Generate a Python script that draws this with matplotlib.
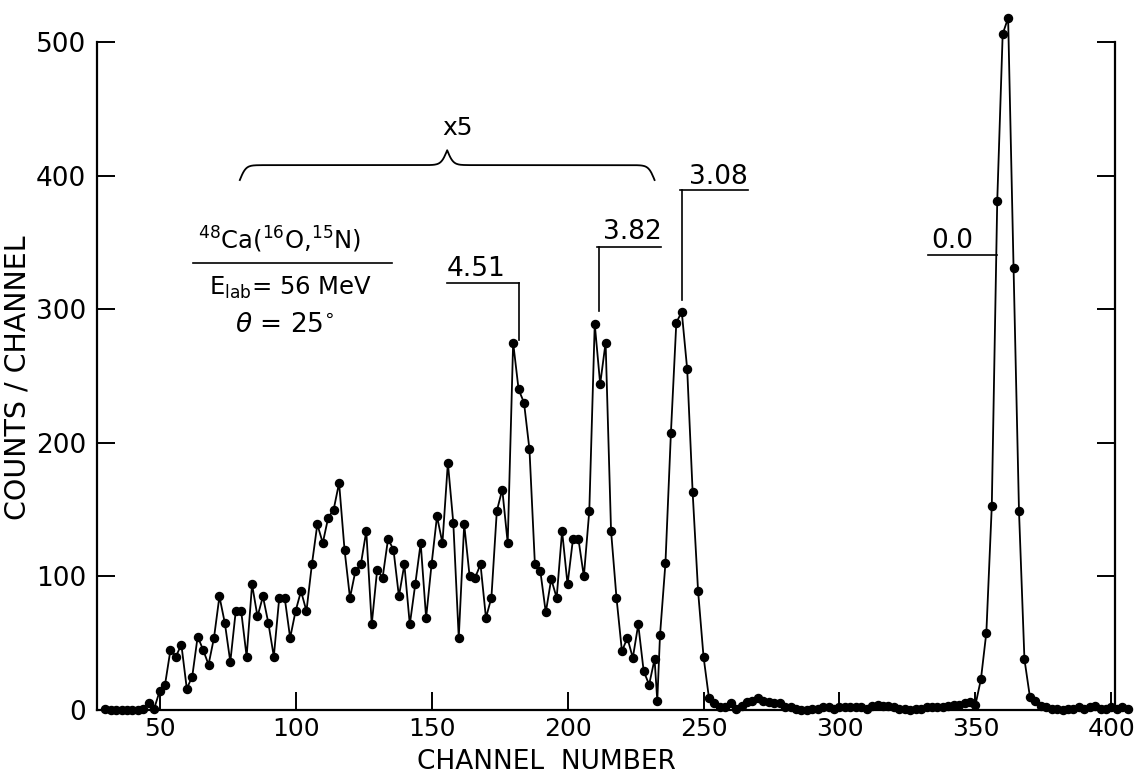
import numpy as np
import matplotlib.pyplot as plt

# channel numbers (points every ~2 channels) and counts as plotted (x5 below ch ~232)
ch = [30, 32, 34, 36, 38, 40, 42, 44, 46, 48,
      50, 52, 54, 56, 58, 60, 62, 64, 66, 68,
      70, 72, 74, 76, 78, 80, 82, 84, 86, 88,
      90, 92, 94, 96, 98, 100, 102, 104, 106, 108,
      110, 112, 114, 116, 118, 120, 122, 124, 126, 128,
      130, 132, 134, 136, 138, 140, 142, 144, 146, 148,
      150, 152, 154, 156, 158, 160, 162, 164, 166, 168,
      170, 172, 174, 176, 178, 180, 182, 184, 186, 188,
      190, 192, 194, 196, 198, 200, 202, 204, 206, 208,
      210, 212, 214, 216, 218, 220, 222, 224, 226, 228,
      230, 232, 233, 234, 236, 238, 240, 242, 244, 246,
      248, 250, 252, 254, 256, 258, 260, 262, 264, 266,
      268, 270, 272, 274, 276, 278, 280, 282, 284, 286,
      288, 290, 292, 294, 296, 298, 300, 302, 304, 306,
      308, 310, 312, 314, 316, 318, 320, 322, 324, 326,
      328, 330, 332, 334, 336, 338, 340, 342, 344, 346,
      348, 350, 352, 354, 356, 358, 360, 362, 364, 366,
      368, 370, 372, 374, 376, 378, 380, 382, 384, 386,
      388, 390, 392, 394, 396, 398, 400, 402, 404, 406]
counts = [1, 0, 0, 0, 0, 0, 0, 1, 5, 1,
          14, 19, 45, 40, 49, 16, 25, 55, 45, 34,
          54, 85, 65, 36, 74, 74, 40, 94, 70, 85,
          65, 40, 84, 84, 54, 74, 89, 74, 109, 139,
          125, 144, 150, 170, 120, 84, 104, 109, 134, 64,
          105, 99, 128, 120, 85, 109, 64, 94, 125, 69,
          109, 145, 125, 185, 140, 54, 139, 100, 99, 109,
          69, 84, 149, 165, 125, 275, 240, 230, 195, 109,
          104, 73, 98, 84, 134, 94, 128, 128, 100, 149,
          289, 244, 275, 134, 84, 44, 54, 39, 64, 29,
          19, 38, 7, 56, 110, 207, 290, 298, 255, 163,
          89, 40, 9, 5, 2, 2, 5, 1, 3, 6,
          7, 9, 7, 6, 5, 5, 2, 2, 1, 0,
          0, 1, 1, 2, 2, 1, 2, 2, 2, 2,
          2, 1, 3, 4, 3, 3, 2, 1, 1, 0,
          1, 1, 2, 2, 2, 2, 3, 4, 4, 5,
          6, 4, 23, 58, 153, 381, 506, 518, 331, 149,
          38, 10, 7, 3, 2, 1, 1, 0, 1, 1,
          2, 1, 2, 3, 1, 1, 2, 1, 2, 1]

x_ticks = [50, 100, 150, 200, 250, 300, 350, 400]
y_ticks = [0, 100, 200, 300, 400, 500]

plt.rcParams['font.family'] = 'DejaVu Sans'

fig = plt.figure(figsize=(11.43, 7.78), dpi=100)
ax = fig.add_axes([0.0849, 0.0874, 0.8906, 0.8586])

ax.plot(ch, counts, '-o', color='black', lw=1.3, ms=5.8, clip_on=False, zorder=5)

ax.set_xlim(27, 401.3)
ax.set_ylim(0, 500)
ax.set_xticks(x_ticks)
ax.set_yticks(y_ticks)
ax.tick_params(axis='both', direction='in', length=13, width=1.4)
ax.tick_params(axis='x', pad=5, labelsize=18)
ax.tick_params(axis='y', pad=8, labelsize=19, right=True)
ax.spines['top'].set_visible(False)
for s in ['left', 'right', 'bottom']:
    ax.spines[s].set_linewidth(1.6)

ax.text(0.441, -0.0778, 'CHANNEL  NUMBER', transform=ax.transAxes,
        ha='center', va='center', fontsize=19)
ax.text(-0.0786, 0.497, 'COUNTS / CHANNEL', transform=ax.transAxes,
        ha='center', va='center', rotation=90, fontsize=20.5)

# level labels with leader lines
def level(txt, tx, ty, x0, x1, yl, xv, yv):
    ax.text(tx, ty, txt, ha='center', va='center', fontsize=19)
    ax.plot([x0, x1], [yl, yl], color='black', lw=1.2)
    if xv is not None:
        ax.plot([xv, xv], [yl, yv], color='black', lw=1.2)

level('3.08', 255.3, 399, 241.3, 266.3, 389, 242, 307)
level('3.82', 223.7, 358, 210.7, 234.2, 346.6, 211.4, 299)
level('4.51', 166.4, 330, 155.6, 182.1, 319.6, 182.1, 277)
level('0.0', 341.3, 351, 332.5, 357.9, 340.6, None, None)

# x5 brace
xb = np.linspace(79.5, 232, 401)
half = xb[:201]
beta = 0.9
yh = 1 / (1 + np.exp(-beta * (half - half[0]))) + 1 / (1 + np.exp(-beta * (half - half[-1])))
yb = np.concatenate((yh, yh[-2::-1]))
ax.plot(xb, 396.7 + (yb - 0.5) * 22.3, color='black', lw=1.3)
ax.text(159.7, 436, 'x5', ha='center', va='center', fontsize=18)

# reaction label
ax.text(94, 352, r'$^{48}$Ca($^{16}$O,$^{15}$N)', ha='center', va='center', fontsize=17.5)
ax.plot([62.3, 135.4], [334.6, 334.6], color='black', lw=1.2)
ax.text(98, 316, r'E$_{\rm lab}$= 56 MeV', ha='center', va='center', fontsize=17.5)
ax.text(96, 288, r'$\theta$ = 25$^{\circ}$', ha='center', va='center', fontsize=19)

fig.savefig('out.png', dpi=100)
